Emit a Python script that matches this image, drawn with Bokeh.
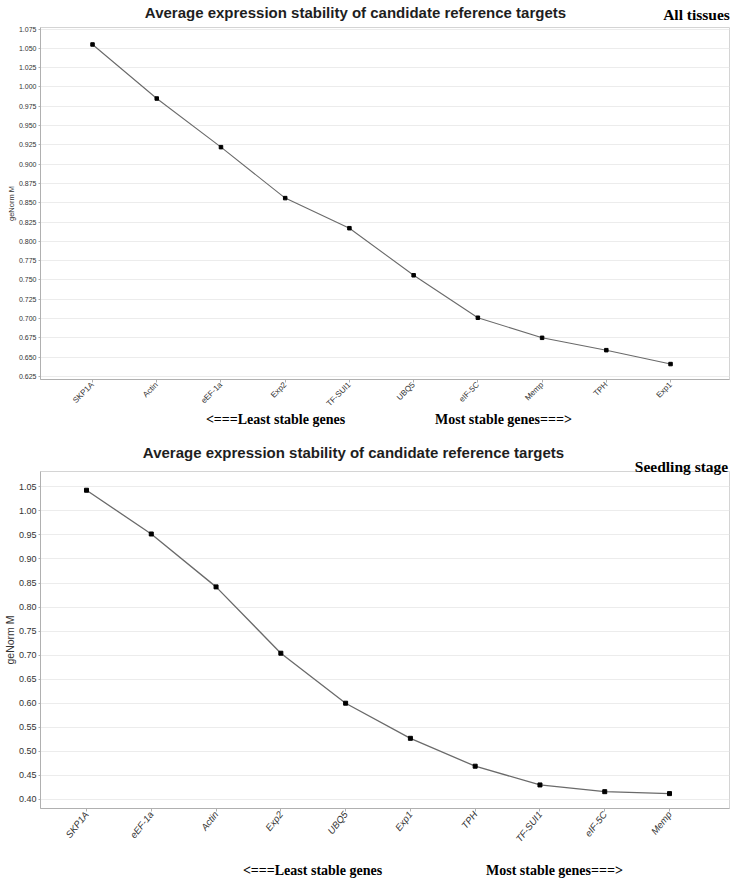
import math
from bokeh.plotting import figure
from bokeh.layouts import column
from bokeh.models import (Range1d, SingleIntervalTicker, NumeralTickFormatter,
                          LinearAxis, FixedTicker)
from bokeh.embed import file_html
from bokeh.resources import INLINE

# ---- data ----
genes_all = ["SKP1A", "Actin", "eEF-1a", "Exp2", "TF-SUI1", "UBQ5", "eIF-5C", "Memp", "TPH", "Exp1"]
m_all = [1.055, 0.985, 0.922, 0.856, 0.817, 0.756, 0.701, 0.675, 0.659, 0.641]

genes_seed = ["SKP1A", "eEF-1a", "Actin", "Exp2", "UBQ5", "Exp1", "TPH", "TF-SUI1", "eIF-5C", "Memp"]
m_seed = [1.043, 0.952, 0.842, 0.704, 0.600, 0.527, 0.469, 0.430, 0.416, 0.412]

title_text = "Average expression stability of candidate reference targets"
subtitle_top = "All tissues"
subtitle_bottom = "Seedling stage"
least_text = "<===Least stable genes"
most_text = "Most stable genes===>"
y_label = "geNorm M"

SANS = "Liberation Sans"
SERIF = "Liberation Serif"
W = 735


def build(genes, vals, height, bl, br, bt, bb, xpad_l, xpad_r, y0, y1, tick_int, fmt,
          ytick_size, xtick_size, xtick_style, xorient, ylab_size,
          subtitle, frame_l, frame_r, title_x, sub_x, least_x, most_x,
          sub_standoff, title_standoff, arrow_standoff, marker_size, lw):
    idx = list(range(len(genes)))
    p = figure(width=W, height=height, output_backend="svg", toolbar_location=None,
               x_range=Range1d(-xpad_l, len(genes) - 1 + xpad_r),
               y_range=Range1d(y0, y1),
               min_border_left=bl, min_border_right=br, min_border_top=bt, min_border_bottom=bb)
    p.background_fill_color = "white"
    p.border_fill_color = "white"
    p.outline_line_color = "#d4d4d4"
    p.xgrid.grid_line_color = None
    p.ygrid.grid_line_color = "#ececec"
    p.xaxis.ticker = FixedTicker(ticks=idx)
    p.xaxis.major_label_overrides = dict(zip(idx, genes))
    p.xaxis.minor_tick_line_color = None
    p.yaxis.ticker = SingleIntervalTicker(interval=tick_int)
    p.yaxis.formatter = NumeralTickFormatter(format=fmt)
    p.yaxis.minor_tick_line_color = None
    for ax in (p.xaxis, p.yaxis):
        ax.axis_line_color = "#b0b0b0"
        ax.major_tick_line_color = "#b0b0b0"
        ax.major_tick_in = 0
        ax.major_tick_out = 2
        ax.major_label_standoff = 0
        ax.major_label_text_font = SANS
        ax.major_label_text_color = "#333333"
    p.yaxis.major_label_text_font_size = ytick_size
    p.yaxis.axis_label = y_label
    p.yaxis.axis_label_text_font = SANS
    p.yaxis.axis_label_text_font_style = "normal"
    p.yaxis.axis_label_text_font_size = ylab_size
    p.yaxis.axis_label_text_color = "#333333"
    p.yaxis.axis_label_standoff = 0
    p.xaxis.major_label_text_font_size = xtick_size
    p.xaxis.major_label_text_font_style = xtick_style
    p.xaxis.major_label_orientation = xorient
    p.xaxis.major_tick_out = 3
    p.xaxis.major_label_standoff = 1

    # pixel-aligned range for text axes (page x coordinates of the frame)
    p.extra_x_ranges = {"txt": Range1d(frame_l, frame_r)}

    def text_axis(loc, ticks, labels, font, size, standoff):
        ax = LinearAxis(x_range_name="txt", ticker=FixedTicker(ticks=ticks),
                        major_label_overrides=dict(zip(ticks, labels)))
        ax.axis_line_color = None
        ax.major_tick_line_color = None
        ax.minor_tick_line_color = None
        ax.major_tick_out = 0
        ax.major_tick_in = 0
        ax.major_label_standoff = standoff
        ax.major_label_text_font = font
        ax.major_label_text_font_style = "bold"
        ax.major_label_text_font_size = size
        ax.major_label_text_color = "black" if font == SERIF else "#1e1e1e"
        p.add_layout(ax, loc)
        return ax

    # subtitle (closest to frame), then main title above it
    text_axis("above", [sub_x], [subtitle], SERIF, "15.5px", sub_standoff)
    text_axis("above", [title_x], [title_text], SANS, "15px", title_standoff)
    # arrow captions below the category axis
    text_axis("below", [least_x, most_x], [least_text, most_text], SERIF, "14px", arrow_standoff)

    p.line(idx, vals, line_color="#6a6a6a", line_width=lw)
    p.scatter(idx, vals, marker="square", size=marker_size, fill_color="black", line_color="black")
    return p


p1 = build(genes_all, m_all, 440, 33, 6, 20, 61, 0.81, 0.918, 0.621, 1.077, 0.025, "0.000",
           "7px", "8px", "normal", math.pi / 4, "7.5px",
           subtitle_top, 40, 729, 355, 696, 275, 503,
           5, -18, -3, 3.5, 1.1)
p2 = build(genes_seed, m_seed, 440, 29, 4, 29, 69, 0.71, 0.926, 0.381, 1.082, 0.05, "0.00",
           "9px", "9.5px", "italic", 0.9, "10.5px",
           subtitle_bottom, 42, 731, 355, 683, 314, 556,
           -3, -6, 12, 4, 1.3)

layout = column(p1, p2, spacing=0)
open("out.html", "w").write(file_html(layout, INLINE))
